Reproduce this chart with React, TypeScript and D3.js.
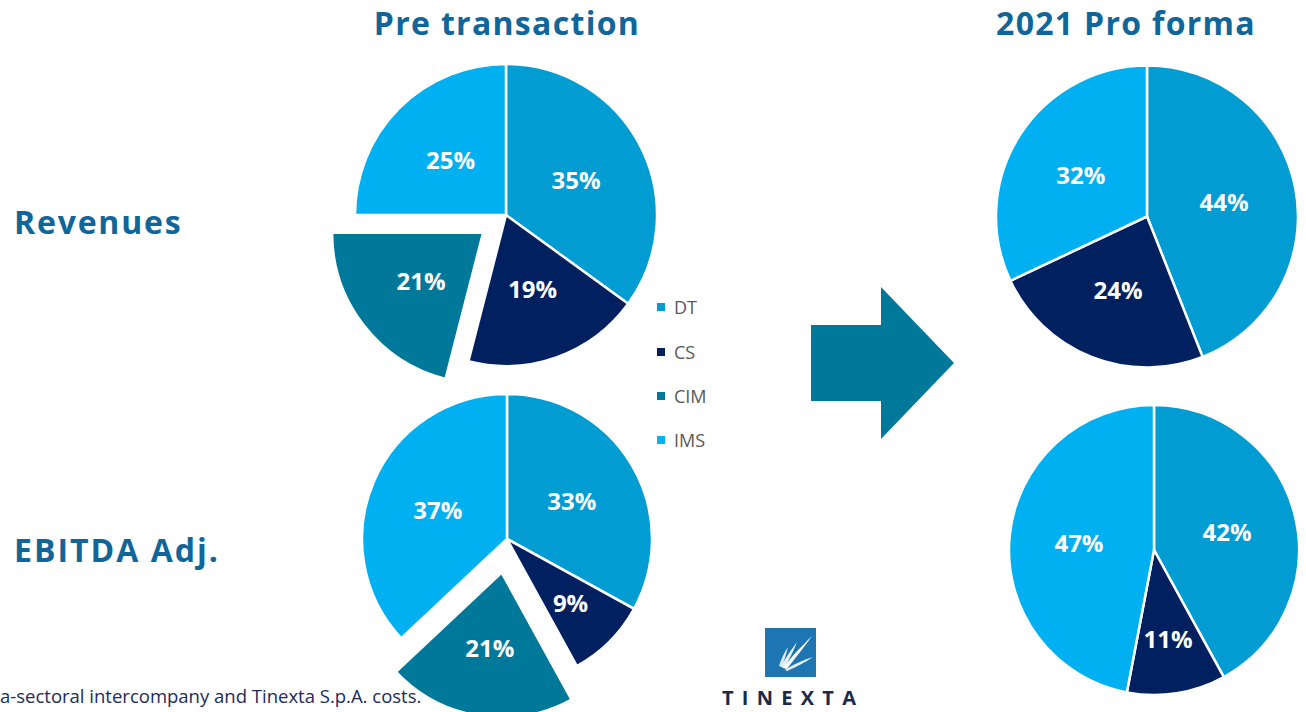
import React from "react";
import * as d3 from "d3";

const categories = ["DT", "CS", "CIM", "IMS"];
const colors = ["#009CD2", "#00205F", "#00789A", "#00B0F0"];
const revenuesPre = [35, 19, 21, 25];
const ebitdaPre = [33, 9, 21, 37];
const revenuesPro = [44, 24, 0, 32];
const ebitdaPro = [42, 11, 0, 47];
const columnTitles = ["Pre transaction", "2021 Pro forma"];
const rowTitles = ["Revenues", "EBITDA Adj."];
const footnote = "a-sectoral intercompany and Tinexta S.p.A. costs.";

const TITLE = "#106699";

type PieProps = { values: number[]; cx: number; cy: number; r: number; explode: number };

function Pie({ values, cx, cy, r, explode }: PieProps) {
  const data = categories.map((c, i) => ({ c, v: values[i], color: colors[i] }));
  const arcs = d3
    .pie<any>()
    .sort(null)
    .value((d: any) => d.v)(data);
  const arcGen = d3.arc<any>().innerRadius(0).outerRadius(r);
  return (
    <g transform={`translate(${cx},${cy})`}>
      {arcs
        .filter((a) => a.data.v > 0)
        .map((a) => {
          const mid = (a.startAngle + a.endAngle) / 2;
          const off = a.data.c === "CIM" ? explode : 0;
          const dx = Math.sin(mid) * off;
          const dy = -Math.cos(mid) * off;
          const frac = a.data.v / 100;
          const lr = frac < 0.15 ? 0.62 * r : 0.52 * r;
          const lx = Math.sin(mid) * lr;
          const ly = -Math.cos(mid) * lr;
          return (
            <g key={a.data.c} transform={`translate(${dx},${dy})`}>
              <path d={arcGen(a) as string} fill={a.data.color} stroke="#fff" strokeWidth={2.5} strokeLinejoin="miter" />
              <text
                x={lx}
                y={ly}
                textAnchor="middle"
                dominantBaseline="central"
                fill="#fff"
                fontFamily="'Open Sans', sans-serif"
                fontWeight={700}
                fontSize={24}
              >
                {a.data.v}%
              </text>
            </g>
          );
        })}
    </g>
  );
}

export default function App() {
  const legendY = [307, 352, 396, 440];
  return (
    <svg
      width={1306}
      height={712}
      style={{ position: "absolute", left: 0, top: 0, background: "#fff" }}
    >
      {/* Column titles */}
      <text x={507} y={35} textAnchor="middle" fill={TITLE} fontFamily="'Open Sans', sans-serif" fontWeight={700} fontSize={32} letterSpacing={1.3}>
        {columnTitles[0]}
      </text>
      <text x={1126} y={35} textAnchor="middle" fill={TITLE} fontFamily="'Open Sans', sans-serif" fontWeight={700} fontSize={32} letterSpacing={1.3}>
        {columnTitles[1]}
      </text>
      {/* Row titles */}
      <text x={14} y={234} fill={TITLE} fontFamily="'Open Sans', sans-serif" fontWeight={700} fontSize={32} letterSpacing={1.8}>
        {rowTitles[0]}
      </text>
      <text x={14} y={562} fill={TITLE} fontFamily="'Open Sans', sans-serif" fontWeight={700} fontSize={32} letterSpacing={2}>
        {rowTitles[1]}
      </text>

      <Pie values={revenuesPre} cx={506} cy={215} r={151} explode={29} />
      <Pie values={ebitdaPre} cx={507} cy={539} r={145} explode={34} />
      <Pie values={revenuesPro} cx={1147} cy={216.5} r={151} explode={0} />
      <Pie values={ebitdaPro} cx={1154} cy={550} r={145} explode={0} />

      {/* Legend */}
      {categories.map((c, i) => (
        <g key={c}>
          <rect x={657} y={legendY[i] - 4} width={8} height={8} fill={colors[i]} />
          <text x={674} y={legendY[i]} dominantBaseline="central" fill="#595959" fontFamily="'Open Sans', sans-serif" fontSize={18}>
            {c}
          </text>
        </g>
      ))}

      {/* Arrow */}
      <path d="M811,325 L881,325 L881,287 L954,363 L881,439 L881,401 L811,401 Z" fill="#00789A" />

      {/* Footnote */}
      <text x={0} y={703} fill="#1C2B5A" fontFamily="'Open Sans', sans-serif" fontSize={18.5}>
        {footnote}
      </text>

      {/* Logo */}
      <g>
        <rect x={765} y={628} width={51} height={49} fill="#1D76B2" />
        <path d="M783,668 C792,656 800,648 812,636 C802,650 795,658 787,669 Z" fill="#fff" />
        <path d="M781,667 C786,657 791,650 797,642 C793,652 789,660 784,668 Z" fill="#fff" opacity={0.9} />
        <path d="M779,666 C781,659 784,653 788,647 C786,655 784,661 782,667 Z" fill="#fff" opacity={0.85} />
        <path d="M785,670 C794,664 803,660 813,657 C804,663 796,667 787,671 Z" fill="#fff" opacity={0.9} />
        <text x={722} y={705} textLength={134} lengthAdjust="spacing" fill="#1B2A4A" fontFamily="'Open Sans', sans-serif" fontWeight={700} fontSize={20}>
          TINEXTA
        </text>
      </g>
    </svg>
  );
}
